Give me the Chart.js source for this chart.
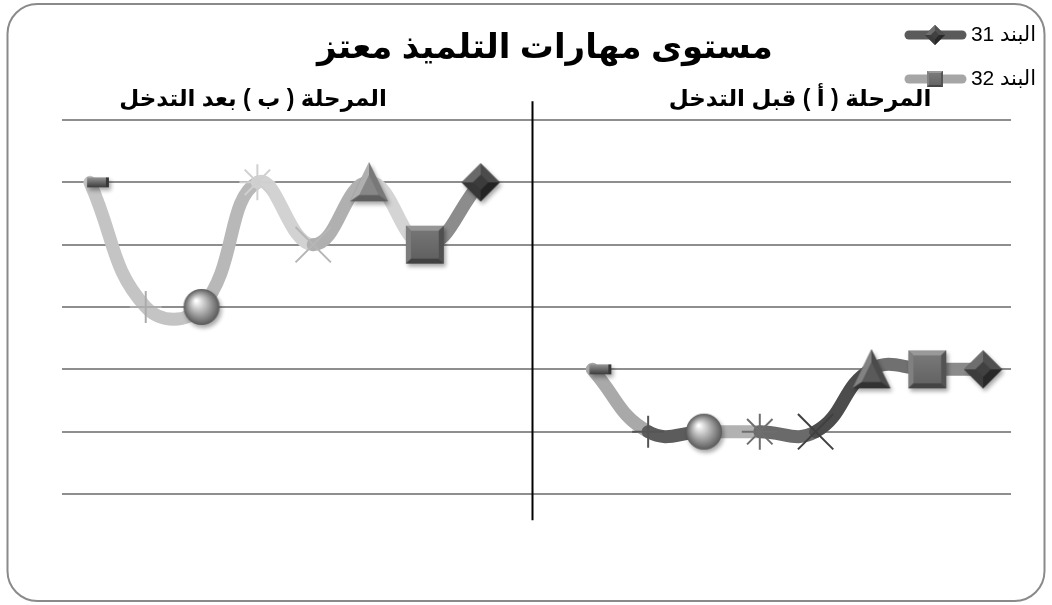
<!DOCTYPE html>
<html lang="ar">
<head>
<meta charset="utf-8">
<script src="https://cdn.jsdelivr.net/npm/chart.js@4.4.1/dist/chart.umd.min.js"></script>
<style>html,body{margin:0;padding:0;background:#fff;}canvas{display:block;}</style>
</head>
<body>
<canvas id="c" width="1052" height="605"></canvas>
<script>
// ---------------- data ----------------
const chartTitle = 'مستوى مهارات التلميذ معتز';
const seriesLabels = ['البند 31', 'البند 32'];
const panelTitles = ['المرحلة ( ب ) بعد التدخل', 'المرحلة ( أ ) قبل التدخل'];
const categories = ['1','2','3','4','5','6','7','8','','9','10','11','12','13','14','15','16'];
const phaseB_item32 = [5, 3, 3, 5, 4, 5, 4, 5];   // left panel (after intervention)
const phaseA_item31 = [2, 1, 1, 1, 1, 2, 2, 2];   // right panel (before intervention)
const yTicks = [0, 1, 2, 3, 4, 5, 6];

// -------------- build series ----------------
const gapFill = n => Array(n).fill(null);
const data31 = gapFill(categories.length - phaseA_item31.length).concat(phaseA_item31);
const data32 = phaseB_item32.concat(gapFill(categories.length - phaseB_item32.length));
const startIdx = [categories.length - phaseA_item31.length, 0];

// -------------- styling ----------------
const markerKinds = ['dash', 'plus', 'sphere', 'asterisk', 'x', 'triangle', 'square', 'diamond'];
const segColors = [
  // dataset 0 (item 31, right panel), indexed by segment start
  { 9: '#a9a9a9', 10: '#5c5c5c', 11: '#b2b2b2', 12: '#6a6a6a', 13: '#4c4c4c', 14: '#707070', 15: '#8a8a8a' },
  // dataset 1 (item 32, left panel)
  { 0: '#c4c4c4', 1: '#c4c4c4', 2: '#b8b8b8', 3: '#d2d2d2', 4: '#b0b0b0', 5: '#d4d4d4', 6: '#8c8c8c' }
];

function g(v){ v = Math.max(0, Math.min(255, Math.round(v))); return `rgb(${v},${v},${v})`; }
function poly(ctx, pts, fill){
  ctx.beginPath(); ctx.moveTo(pts[0][0], pts[0][1]);
  for (let i = 1; i < pts.length; i++) ctx.lineTo(pts[i][0], pts[i][1]);
  ctx.closePath(); ctx.fillStyle = fill; ctx.fill();
}
function makeMarker(kind, lvl, s, shadow = true){
  const S = Math.ceil(2 * s + 18);
  const cv = document.createElement('canvas'); cv.width = S; cv.height = S;
  const ctx = cv.getContext('2d'); const c = S / 2;
  const sh = on => {
    ctx.shadowColor = on ? 'rgba(0,0,0,0.35)' : 'rgba(0,0,0,0)';
    ctx.shadowBlur = on ? 4 : 0; ctx.shadowOffsetX = on ? 2 : 0; ctx.shadowOffsetY = on ? 3 : 0;
  };
  if (kind === 'sphere') {
    sh(shadow);
    const gr = ctx.createRadialGradient(c - s * 0.3, c - s * 0.35, s * 0.05, c, c, s);
    gr.addColorStop(0, '#ffffff'); gr.addColorStop(0.45, g(lvl + 20)); gr.addColorStop(1, g(lvl - 70));
    ctx.beginPath(); ctx.arc(c, c, s, 0, Math.PI * 2); ctx.fillStyle = gr; ctx.fill();
  } else if (kind === 'square') {
    const b = s * 0.28, L = c - s, R = c + s, T = c - s, B = c + s;
    sh(shadow); ctx.fillStyle = g(lvl); ctx.fillRect(L, T, 2 * s, 2 * s); sh(false);
    poly(ctx, [[L, T], [R, T], [R - b, T + b], [L + b, T + b]], g(lvl + 45));
    poly(ctx, [[L, T], [L + b, T + b], [L + b, B - b], [L, B]], g(lvl + 20));
    poly(ctx, [[R, T], [R, B], [R - b, B - b], [R - b, T + b]], g(lvl - 25));
    poly(ctx, [[L, B], [R, B], [R - b, B - b], [L + b, B - b]], g(lvl - 40));
    const gr = ctx.createLinearGradient(0, T + b, 0, B - b);
    gr.addColorStop(0, g(lvl + 12)); gr.addColorStop(1, g(lvl - 8));
    ctx.fillStyle = gr; ctx.fillRect(L + b, T + b, 2 * (s - b), 2 * (s - b));
  } else if (kind === 'diamond') {
    const i = s * 0.4;
    sh(shadow); poly(ctx, [[c, c - s], [c + s, c], [c, c + s], [c - s, c]], g(lvl)); sh(false);
    poly(ctx, [[c - s, c], [c, c - s], [c, c - i], [c - i, c]], g(lvl + 45));
    poly(ctx, [[c, c - s], [c + s, c], [c + i, c], [c, c - i]], g(lvl + 15));
    poly(ctx, [[c + s, c], [c, c + s], [c, c + i], [c + i, c]], g(lvl - 25));
    poly(ctx, [[c, c + s], [c - s, c], [c - i, c], [c, c + i]], g(lvl - 5));
    poly(ctx, [[c, c - i], [c + i, c], [c, c + i], [c - i, c]], g(lvl));
  } else if (kind === 'triangle') {
    const P = [[c, c - s * 1.05], [c - s, c + s], [c + s, c + s]];
    const cx = (P[0][0] + P[1][0] + P[2][0]) / 3, cy = (P[0][1] + P[1][1] + P[2][1]) / 3;
    const I = P.map(p => [cx + (p[0] - cx) * 0.5, cy + (p[1] - cy) * 0.5]);
    sh(shadow); poly(ctx, P, g(lvl)); sh(false);
    poly(ctx, [P[0], P[1], I[1], I[0]], g(lvl + 45));
    poly(ctx, [P[0], P[2], I[2], I[0]], g(lvl - 10));
    poly(ctx, [P[1], P[2], I[2], I[1]], g(lvl - 35));
    poly(ctx, I, g(lvl + 5));
  } else if (kind === 'dash') {
    const x0 = c - s * 0.15, x1 = c + s, h = 5;
    sh(shadow);
    const gr = ctx.createLinearGradient(0, c - h, 0, c + h);
    gr.addColorStop(0, g(lvl + 50)); gr.addColorStop(1, g(lvl - 40));
    ctx.fillStyle = gr; ctx.fillRect(x0, c - h, x1 - x0, 2 * h);
    sh(false);
    ctx.fillStyle = g(lvl - 45); ctx.fillRect(x1 - 3, c - h, 3, 2 * h);
  }
  return cv;
}

const markerSpec = {
  L: {
    dash:     { style: makeMarker('dash', 100, 19), r: 12, bw: 0, color: '#777' },
    plus:     { style: 'cross', r: 16, bw: 2, color: '#ababab' },
    sphere:   { style: makeMarker('sphere', 160, 18), r: 18, bw: 0, color: '#999' },
    asterisk: { style: 'star', r: 18, bw: 2, color: '#cfcfcf' },
    x:        { style: 'crossRot', r: 25, bw: 2, color: '#b6b6b6' },
    triangle: { style: makeMarker('triangle', 130, 19), r: 19, bw: 0, color: '#888' },
    square:   { style: makeMarker('square', 105, 19), r: 19, bw: 0, color: '#666' },
    diamond:  { style: makeMarker('diamond', 60, 19), r: 19, bw: 0, color: '#444' }
  },
  R: {
    dash:     { style: makeMarker('dash', 100, 19), r: 12, bw: 0, color: '#777' },
    plus:     { style: 'cross', r: 16, bw: 2, color: '#555555' },
    sphere:   { style: makeMarker('sphere', 160, 18), r: 18, bw: 0, color: '#999' },
    asterisk: { style: 'star', r: 18, bw: 2, color: '#6e6e6e' },
    x:        { style: 'crossRot', r: 25, bw: 2, color: '#404040' },
    triangle: { style: makeMarker('triangle', 85, 19), r: 19, bw: 0, color: '#555' },
    square:   { style: makeMarker('square', 108, 19), r: 19, bw: 0, color: '#666' },
    diamond:  { style: makeMarker('diamond', 65, 19), r: 19, bw: 0, color: '#444' }
  }
};
function spec(c){
  if (c.index === undefined) return null;
  const k = markerKinds[c.index - startIdx[c.datasetIndex]];
  if (!k) return null;
  return markerSpec[c.datasetIndex === 0 ? 'R' : 'L'][k];
}

const legendMarkers = [makeMarker('diamond', 65, 10, false), makeMarker('square', 110, 8, false)];
const legendLineColors = ['#5a5a5a', '#a6a6a6'];

const FONT = '"Liberation Sans", "DejaVu Sans", sans-serif';

const decor = {
  id: 'decor',
  beforeDraw(chart){
    const ctx = chart.ctx;
    ctx.save();
    ctx.fillStyle = '#fff'; ctx.fillRect(0, 0, chart.width, chart.height);
    ctx.strokeStyle = '#8a8a8a'; ctx.lineWidth = 2;
    ctx.beginPath(); ctx.roundRect(7.5, 4, 1037, 597, 30); ctx.stroke();
    ctx.restore();
  },
  afterDraw(chart){
    const ctx = chart.ctx, x = chart.scales.x, y = chart.scales.y;
    ctx.save();
    // divider between the phases
    const dx = Math.round(x.getPixelForValue(7.92)) + 0.5;
    ctx.strokeStyle = '#000'; ctx.lineWidth = 2;
    ctx.beginPath(); ctx.moveTo(dx, y.getPixelForValue(6.3)); ctx.lineTo(dx, y.getPixelForValue(-0.42)); ctx.stroke();
    // titles
    ctx.direction = 'rtl';
    ctx.fillStyle = '#000'; ctx.textAlign = 'center'; ctx.textBaseline = 'middle';
    ctx.font = 'bold 34px ' + FONT;
    ctx.fillText(chartTitle, 545, 49);
    ctx.font = 'bold 23px ' + FONT;
    ctx.fillText(panelTitles[0], 253, 100);
    ctx.fillText(panelTitles[1], 800, 100);
    // legend
    const rows = [35, 79];
    chart.data.datasets.forEach((ds, i) => {
      const ly = rows[i];
      ctx.strokeStyle = legendLineColors[i]; ctx.lineWidth = 9; ctx.lineCap = 'round';
      ctx.beginPath(); ctx.moveTo(909, ly); ctx.lineTo(962, ly); ctx.stroke();
      const m = legendMarkers[i];
      ctx.drawImage(m, 935 - m.width / 2, ly - m.height / 2);
      ctx.fillStyle = '#000'; ctx.textAlign = 'right'; ctx.font = '21px ' + FONT;
      ctx.fillText(ds.label, 1036, ly);
    });
    ctx.restore();
  }
};

new Chart(document.getElementById('c'), {
  type: 'line',
  data: {
    labels: categories,
    datasets: [
      { label: seriesLabels[0], data: data31 },
      { label: seriesLabels[1], data: data32 }
    ].map((d, di) => Object.assign(d, {
      borderColor: legendLineColors[di],
      borderWidth: 13,
      borderCapStyle: 'round',
      borderJoinStyle: 'round',
      tension: 0.45,
      fill: false,
      clip: false,
      segment: { borderColor: c => segColors[c.datasetIndex][c.p0DataIndex] },
      pointStyle: c => { const s = spec(c); return s ? s.style : 'circle'; },
      pointRadius: c => { const s = spec(c); return s ? s.r : 0; },
      pointHoverRadius: c => { const s = spec(c); return s ? s.r : 0; },
      pointBorderWidth: c => { const s = spec(c); return s ? s.bw : 0; },
      pointBorderColor: c => { const s = spec(c); return s ? s.color : '#000'; },
      pointBackgroundColor: c => { const s = spec(c); return s ? s.color : '#000'; }
    }))
  },
  options: {
    responsive: false,
    animation: false,
    devicePixelRatio: 1,
    events: [],
    layout: { padding: { left: 62, right: 41, top: 120, bottom: 111 } },
    plugins: { legend: { display: false }, title: { display: false }, tooltip: { enabled: false } },
    scales: {
      x: { type: 'category', display: false, offset: true },
      y: {
        min: yTicks[0], max: yTicks[yTicks.length - 1],
        afterBuildTicks: s => { s.ticks = yTicks.map(v => ({ value: v })); },
        ticks: { display: false },
        grid: { color: '#8e8e8e', lineWidth: 2, drawTicks: false },
        border: { display: false }
      }
    }
  },
  plugins: [decor]
});
</script>
</body>
</html>
